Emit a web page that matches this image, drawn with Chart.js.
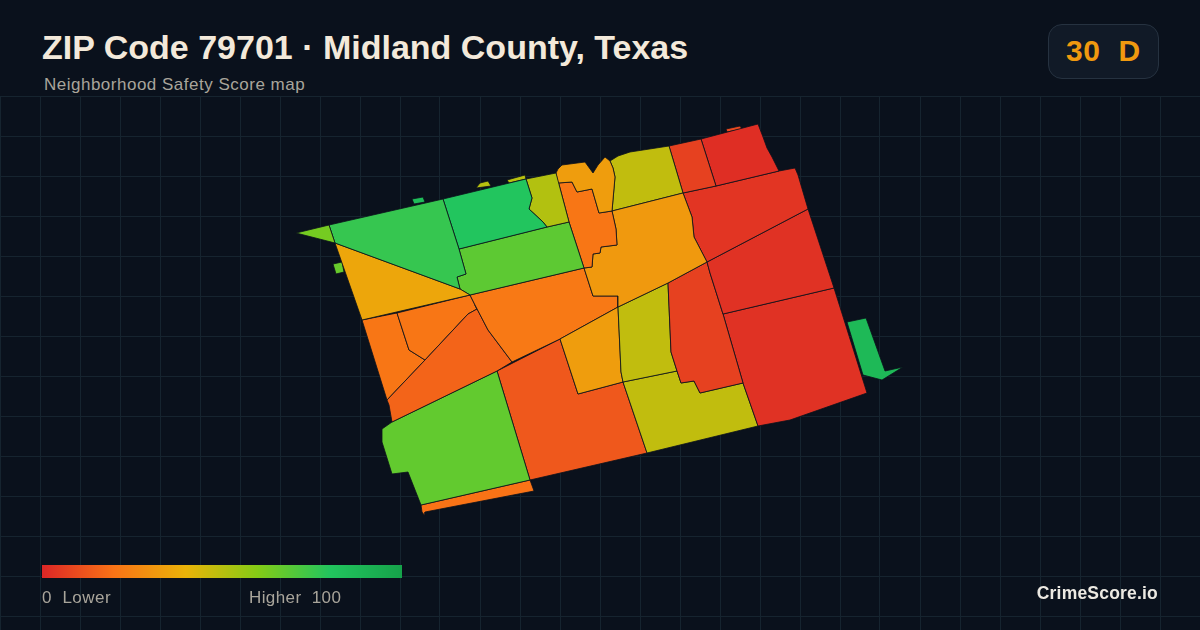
<!DOCTYPE html>
<html><head><meta charset="utf-8">
<script src="https://cdn.jsdelivr.net/npm/chart.js@4"></script>
<style>
html,body{margin:0;padding:0;background:#0a111c;width:1200px;height:630px;overflow:hidden;font-family:"Liberation Sans",Arial,sans-serif}
#wrap{position:absolute;left:0;top:96px;width:1200px;height:534px}
.t{position:absolute;white-space:pre;line-height:1}
#title{left:42px;top:30px;font-size:34px;font-weight:700;color:#f3e9da}
#sub{left:44px;top:76px;font-size:17px;color:#a9a59b;letter-spacing:.5px}
#badge{position:absolute;left:1048px;top:24px;width:109px;height:53px;border:1px solid #263240;border-radius:14px;background:#111a27}
#score{left:1066px;top:36px;font-size:30px;font-weight:700;color:#f0990f;letter-spacing:.6px}
#bar{position:absolute;left:42px;top:565px;width:360px;height:13px}
#lo{left:42px;top:589px;font-size:17px;color:#a9a59b;letter-spacing:.5px}
#hi{left:249px;top:589px;font-size:17px;color:#a9a59b;letter-spacing:.4px}
#brand{right:42px;top:585px;font-size:17.5px;font-weight:700;color:#ece9e2;letter-spacing:.2px}
</style></head><body>
<div id="wrap"><canvas id="c" width="1200" height="534"></canvas></div>
<div class="t" id="title"></div><div class="t" id="sub"></div>
<div id="badge"></div><div class="t" id="score"></div>
<div id="bar"></div><div class="t" id="lo"></div><div class="t" id="hi"></div><div class="t" id="brand"></div>
<script>
const titleText = "ZIP Code 79701 · Midland County, Texas";
const subtitleText = "Neighborhood Safety Score map";
const overallScore = "30  D";
const legendLow = "0  Lower";
const legendHigh = "Higher  100";
const brandText = "CrimeScore.io";

const scaleStops = [0, 20, 40, 60, 80, 100];
const scaleColors = ["#dc2626", "#f97316", "#eab308", "#84cc16", "#22c55e", "#16a34a"];

// Tract outlines in map units
const spike = [[296,233],[329,225],[335,243]];
const northwest = [[329,225],[443,199],[459,249],[466,274],[457,277],[460,289],[335,243]];
const westWedge = [[335,243],[460,289],[470,295],[362,320]];
const northGreen = [[443,199],[526,179],[532,198],[529,209],[543,222],[547,227],[459,249]];
const northOlive = [[526,179],[556,173],[569,222],[547,227],[543,222],[529,209],[532,198]];
const midGreen = [[459,249],[547,227],[569,222],[584,268],[470,295],[460,289],[457,277],[466,274]];
const lobes = [[556,173],[558,169],[562,165],[585,162],[593,173],[598,165],[605,157],[610,161],[613,168],[615,177],[612,211],[599,213],[592,189],[577,192],[572,182],[558,183]];
const stepped = [[558,183],[572,182],[577,192],[592,189],[599,213],[612,211],[616,229],[617,245],[601,247],[600,253],[593,254],[592,267],[584,268],[569,222],[556,173]];
const centerAmber = [[612,211],[683,193],[692,217],[694,237],[707,262],[668,283],[618,307],[618,296],[606,296],[593,296],[584,268],[592,267],[593,254],[600,253],[601,247],[617,245],[616,229]];
const northOlive2 = [[610,161],[618,156],[630,152],[669,146],[683,193],[612,211],[615,177],[613,168]];
const northRed1 = [[669,146],[701,139],[716,186],[683,193]];
const northRed2 = [[701,139],[758,124],[763,137],[767,148],[772,157],[779,171],[716,186]];
const eastRed1 = [[683,193],[716,186],[779,171],[795,168],[798,175],[808,209],[707,262],[694,237],[692,217]];
const eastRed2 = [[707,262],[808,209],[834,288],[723,314],[710,273]];
const eastRed3 = [[668,283],[707,262],[710,273],[723,314],[743,383],[700,393],[694,381],[681,383],[677,371],[671,352]];
const southeastRed = [[723,314],[834,288],[867,393],[790,420],[758,426],[743,383]];
const midOlive = [[618,307],[668,283],[671,352],[677,371],[623,382],[621,372]];
const southOlive = [[623,382],[677,371],[681,383],[694,381],[700,393],[743,383],[758,426],[647,453]];
const midAmber = [[560,339],[618,307],[621,372],[623,382],[578,394]];
const eastGreen = [[847,322],[866,318],[885,371],[903,367],[882,380],[863,375]];
const centerOrange = [[470,295],[584,268],[593,296],[606,296],[618,296],[618,307],[560,339],[512,362],[488,330],[475,305]];
const diagonal = [[477,309],[468,314],[425,360],[387,400],[389,405],[392,422],[497,371],[512,362],[488,330],[475,305]];
const westOrange1 = [[397,313],[470,295],[475,305],[477,309],[468,314],[425,360],[409,350]];
const westOrange2 = [[362,320],[397,313],[409,350],[425,360],[387,400]];
const southGreen = [[392,422],[497,371],[530,480],[421,505],[408,472],[392,474],[382,442],[382,429]];
const southStrip = [[421,505],[530,480],[534,491],[425,512],[425,516],[422,512]];
const southOrange = [[497,371],[560,339],[578,394],[623,382],[647,453],[530,480]];
const islet1 = [[333,264],[342,262],[344,272],[336,274]];
const islet2 = [[412,199],[423,197],[425,202],[414,204]];
const islet3 = [[476,188],[480,183],[488,181],[491,186]];
const islet4 = [[507,180],[525,175],[526,179],[509,183]];
const islet5 = [[726,129],[740,126],[742,129],[727,132]];

const outlines = [spike,northwest,westWedge,northGreen,northOlive,midGreen,lobes,stepped,centerAmber,northOlive2,northRed1,northRed2,eastRed1,eastRed2,eastRed3,southeastRed,midOlive,southOlive,midAmber,eastGreen,centerOrange,diagonal,westOrange1,westOrange2,southGreen,southStrip,southOrange,islet1,islet2,islet3,islet4,islet5];
const scores = [63,76,36,80,51,68,33,21,32,48,7,2,4,3,7,3,48,48,33,87,22,16,21,21,67,20,13,66,85,50,50,9];

function hex(c){return [1,3,5].map(i=>parseInt(c.substr(i,2),16));}
function scoreColor(s){
  let i=0; while(i<scaleStops.length-2 && s>scaleStops[i+1]) i++;
  const f=(s-scaleStops[i])/(scaleStops[i+1]-scaleStops[i]), a=hex(scaleColors[i]), b=hex(scaleColors[i+1]);
  return "rgb("+a.map((v,k)=>Math.round(v+(b[k]-v)*f)).join(",")+")";
}
document.getElementById("title").textContent=titleText;
document.getElementById("sub").textContent=subtitleText;
document.getElementById("score").textContent=overallScore;
document.getElementById("lo").textContent=legendLow;
document.getElementById("hi").textContent=legendHigh;
document.getElementById("brand").textContent=brandText;
document.getElementById("bar").style.background="linear-gradient(to right,"+scaleColors.map((c,i)=>c+" "+scaleStops[i]+"%").join(",")+")";

new Chart(document.getElementById("c"),{
  type:"scatter",
  data:{datasets:outlines.map((o,i)=>({
    data:o.concat([o[0]]).map(p=>({x:p[0],y:p[1]})),
    showLine:true, fill:"shape", tension:0,
    backgroundColor:scoreColor(scores[i]),
    borderColor:"#0b111c", borderWidth:0.8, borderJoinStyle:"round",
    pointRadius:0, pointHoverRadius:0, clip:false
  }))},
  options:{
    responsive:false, animation:false, events:[],
    layout:{padding:0},
    plugins:{legend:{display:false},tooltip:{enabled:false},title:{display:false}},
    scales:{
      x:{type:"linear",min:0,max:1200,display:true,border:{display:false},
         ticks:{display:false,stepSize:40},grid:{color:"#16242f",lineWidth:1,drawTicks:false}},
      y:{type:"linear",min:96,max:630,reverse:true,display:true,border:{display:false},
         afterBuildTicks:a=>{const t=[];for(let v=96;v<=630;v+=40)t.push({value:v});a.ticks=t;},
         ticks:{display:false},grid:{color:"#16242f",lineWidth:1,drawTicks:false}}
    }
  }
});
</script></body></html>
